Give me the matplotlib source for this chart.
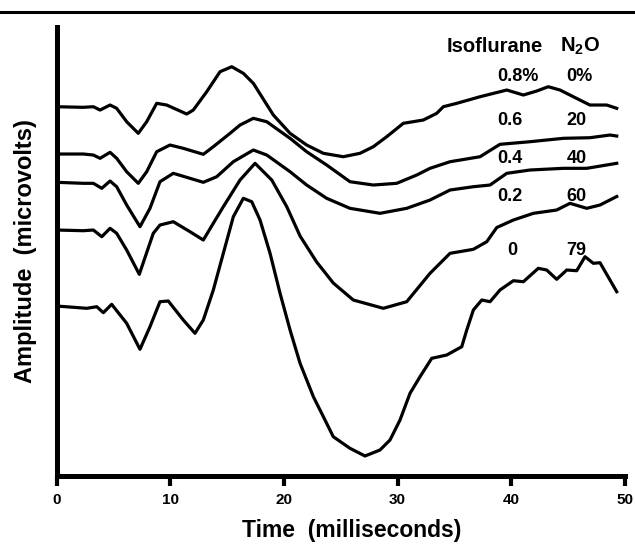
import matplotlib
matplotlib.use("Agg")
import matplotlib.pyplot as plt
from matplotlib.lines import Line2D

plt.rcParams['font.family'] = ['Liberation Sans', 'DejaVu Sans']
plt.rcParams['font.weight'] = 'bold'
plt.rcParams['mathtext.fontset'] = 'custom'
plt.rcParams['mathtext.rm'] = 'Liberation Sans:bold'
plt.rcParams['mathtext.bf'] = 'Liberation Sans:bold'

# evoked responses, time in ms, amplitude in arbitrary units (offset per trace)
t_08 = [0, 2.36, 3.24, 3.83, 4.71, 5.29, 6.17, 7.19, 7.93, 8.81, 9.69, 11.45, 12.03, 13.21,
        14.38, 15.41, 16.43, 17.31, 19.07, 20.54, 22.0, 23.47, 25.22, 26.69, 27.86, 29.04,
        30.5, 32.26, 33.44, 34.02, 35.2, 37.25, 39.6, 41.06, 42.23, 43.25, 44.28, 45.45,
        46.91, 48.39, 49.27]
a_08 = [36.93, 36.87, 36.93, 36.6, 37.1, 36.77, 35.43, 34.27, 35.43, 37.27, 37.1, 36.2, 36.6,
        38.43, 40.43, 40.93, 40.27, 39.27, 36.1, 34.27, 33.1, 32.27, 31.93, 32.27, 32.93,
        33.93, 35.27, 35.6, 36.27, 36.93, 37.27, 37.93, 38.6, 38.1, 38.5, 38.93, 38.6, 37.93,
        37.1, 37.1, 36.77]

t_06 = [0, 2.36, 3.24, 3.83, 4.71, 5.29, 6.17, 7.19, 7.93, 8.81, 9.98, 11.15, 12.91, 13.79,
        15.26, 16.14, 17.31, 18.49, 20.54, 22.0, 23.76, 25.81, 27.86, 29.92, 31.68, 32.85,
        34.61, 37.25, 39.0, 41.64, 44.57, 46.91, 48.67, 49.27]
a_06 = [32.2, 32.2, 32.1, 31.77, 32.37, 31.77, 30.43, 29.27, 30.43, 32.43, 33.1, 32.77, 32.17,
        32.93, 34.27, 35.1, 35.77, 35.43, 33.77, 32.43, 31.1, 29.43, 29.1, 29.27, 30.1, 30.77,
        31.43, 31.93, 33.17, 33.43, 33.77, 33.83, 34.1, 34.0]

t_04 = [0, 2.36, 3.24, 3.98, 4.71, 5.29, 6.17, 7.34, 8.22, 9.1, 10.27, 11.74, 12.91, 14.09,
        15.55, 17.31, 18.49, 20.54, 22.0, 23.76, 25.81, 28.45, 30.8, 32.85, 34.61, 36.66,
        38.13, 39.6, 41.64, 44.57, 46.63, 49.27]
a_04 = [29.37, 29.27, 29.27, 28.77, 29.5, 28.93, 27.1, 24.93, 26.77, 29.43, 30.27, 29.77, 29.37,
        29.93, 31.43, 32.6, 32.1, 30.43, 29.1, 27.77, 26.77, 26.27, 26.77, 27.6, 28.6, 28.93,
        29.1, 30.27, 30.6, 30.77, 30.77, 31.27]

t_02 = [0, 2.36, 3.24, 3.98, 4.71, 5.29, 6.17, 7.28, 8.51, 9.1, 10.27, 11.74, 12.91, 13.79,
        14.67, 16.14, 17.46, 18.93, 20.25, 21.42, 22.88, 24.34, 26.1, 28.74, 30.8, 32.85,
        34.61, 36.66, 37.84, 38.72, 40.18, 41.94, 43.99, 45.16, 46.63, 47.8, 49.27]
a_02 = [24.6, 24.53, 24.6, 23.93, 24.77, 24.27, 22.6, 20.17, 24.27, 25.1, 25.43, 24.43, 23.6,
        25.27, 26.93, 29.6, 31.27, 29.6, 26.93, 24.0, 21.4, 19.3, 17.6, 16.77, 17.43, 20.27,
        22.27, 22.67, 23.43, 24.85, 25.6, 26.27, 26.6, 27.27, 26.77, 27.1, 27.95]

t_00 = [0, 2.66, 3.54, 4.12, 4.85, 6.17, 7.34, 8.22, 9.1, 9.83, 11.15, 12.18, 12.91, 13.79,
        14.67, 15.55, 16.43, 17.17, 17.9, 18.78, 19.66, 20.54, 21.42, 22.59, 23.47, 24.34,
        25.81, 27.13, 28.45, 29.33, 30.21, 31.09, 31.97, 33.0, 34.32, 35.64, 36.08, 36.66,
        37.4, 38.13, 39.0, 40.18, 41.06, 42.37, 43.11, 43.99, 44.87, 45.75, 46.48, 47.21,
        47.8, 49.27]
a_00 = [17.0, 16.77, 16.93, 16.33, 17.17, 15.27, 12.67, 14.93, 17.43, 17.5, 15.6, 14.27, 15.6,
        18.6, 22.27, 25.93, 27.77, 27.43, 25.6, 22.27, 18.27, 14.6, 11.27, 7.93, 5.93, 3.93,
        2.77, 2.0, 2.6, 3.6, 5.6, 8.27, 9.93, 11.77, 12.1, 12.93, 14.6, 16.6,
        17.6, 17.43, 18.6, 19.53, 19.43, 20.77, 20.6, 19.67, 20.6, 20.53, 21.93, 21.27,
        21.33, 18.43]

iso_labels = ['0.8%', '0.6', '0.4', '0.2', '0']
n2o_labels = ['0%', '20', '40', '60', '79']
label_y = [39.93, 35.6, 31.77, 27.93, 22.6]

fig = plt.figure(figsize=(6.35, 5.46), dpi=100)
ax = fig.add_axes([0.089, 0.1282, 0.8953, 0.8223])

for t, a in [(t_08, a_08), (t_06, a_06), (t_04, a_04), (t_02, a_02), (t_00, a_00)]:
    ax.plot(t, a, color='black', lw=2.3, solid_joinstyle='round')

ax.set_xlim(0, 50)
ax.set_ylim(0, 44.9)
ax.set_xticks([0, 10, 20, 30, 40, 50])
ax.set_yticks([])
ax.spines['top'].set_visible(False)
ax.spines['right'].set_visible(False)
ax.spines['left'].set_linewidth(3.6)
ax.spines['bottom'].set_linewidth(3.6)
ax.tick_params(axis='x', direction='out', length=7, width=3, pad=5, labelsize=11)

ax.set_xlabel('Time  (milliseconds)', fontsize=16.5, fontweight='bold', labelpad=9)
ax.xaxis.label.set_x(0.519)
ax.set_ylabel('Amplitude  (microvolts)', fontsize=17, fontweight='bold', labelpad=14)

# column headers and per-trace labels
ax.text(34.32, 42.93, 'Isoflurane', fontsize=14.5, fontweight='bold', ha='left', va='center')
ax.text(44.28, 42.93, r'N$_\mathbf{2}$O', fontsize=14.5, fontweight='bold', ha='left', va='center')
for i in range(len(iso_labels)):
    x_iso = 39.6 if iso_labels[i] == '0' else 38.72
    ax.text(x_iso, label_y[i], iso_labels[i], fontsize=13, fontweight='bold', ha='left', va='center')
    ax.text(44.87, label_y[i], n2o_labels[i], fontsize=13, fontweight='bold', ha='left', va='center')

# rule across the top of the page
fig.add_artist(Line2D([0, 1], [0.978, 0.978], color='black', lw=2.2, transform=fig.transFigure))

fig.savefig('out.png', dpi=100)
